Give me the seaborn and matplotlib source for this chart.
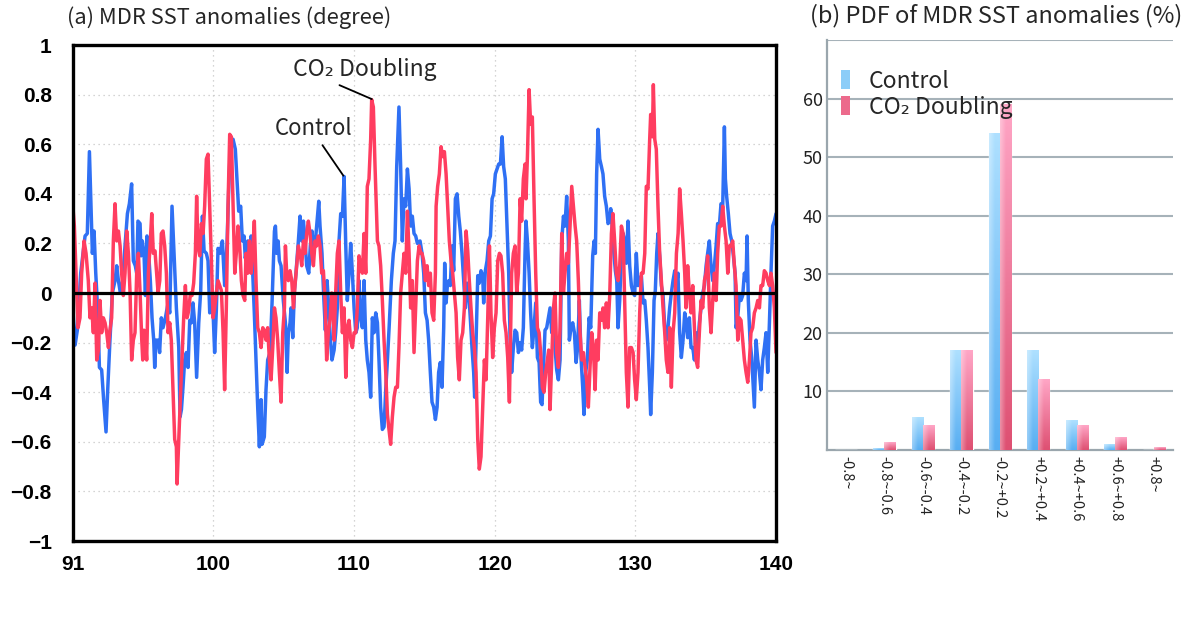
import numpy as np
import pandas as pd
import matplotlib
matplotlib.use("Agg")
import matplotlib.pyplot as plt
import matplotlib.colors as mcolors
from matplotlib.patches import Patch
import seaborn as sns

# ---------------- data: (a) MDR SST anomalies ----------------
ctrl_year = [
    90.01, 90.18, 90.34, 90.58, 90.89, 91.05, 91.20, 91.31, 91.41, 91.53,
    91.65, 91.79, 91.91, 92.07, 92.21, 92.38, 92.50, 92.66, 92.83, 93.02,
    93.14, 93.26, 93.40, 93.56, 93.73, 93.90, 94.04, 94.20, 94.32, 94.46,
    94.56, 94.65, 94.80, 94.87, 94.96, 95.08, 95.18, 95.29, 95.41, 95.53,
    95.65, 95.77, 95.84, 95.93,
    96.08, 96.19, 96.31, 96.43, 96.60, 96.79, 96.91, 97.07, 97.21, 97.38,
    97.55, 97.64, 97.74, 97.85, 97.97, 98.09, 98.21, 98.33, 98.45, 98.56,
    98.68, 98.82, 98.97, 99.11, 99.23, 99.35, 99.51, 99.63, 99.75, 99.87,
    99.99, 100.10, 100.22, 100.34, 100.48, 100.65, 100.81, 100.98, 101.10, 101.24,
    101.41, 101.57, 101.71, 101.81, 101.95, 102.07, 102.19, 102.28,
    102.45, 102.57, 102.69, 102.80, 102.92, 103.04, 103.16, 103.28, 103.40, 103.47,
    103.63, 103.75, 103.87, 104.04, 104.18, 104.35, 104.42, 104.51, 104.61, 104.70,
    104.82, 104.98, 105.13, 105.25, 105.34, 105.46, 105.53, 105.65, 105.77, 105.88,
    106.05, 106.17, 106.29, 106.41, 106.53, 106.64, 106.79, 106.90, 107.02, 107.14,
    107.26, 107.38, 107.50, 107.59, 107.73, 107.85, 107.97, 108.09, 108.21, 108.32,
    108.44,
    108.59, 108.70, 108.82, 108.94, 109.06, 109.18, 109.30, 109.42, 109.53, 109.65,
    109.77, 109.89, 110.01, 110.13, 110.24, 110.36, 110.48, 110.60, 110.72, 110.84,
    110.95, 111.07, 111.19, 111.31, 111.43, 111.55, 111.67, 111.78, 111.90, 112.02,
    112.14, 112.26, 112.38, 112.50, 112.66, 112.80, 112.92, 113.04, 113.20, 113.32,
    113.44, 113.56, 113.68, 113.80, 113.92, 114.03, 114.15, 114.27, 114.39, 114.51,
    114.70,
    114.84, 114.96, 115.08, 115.20, 115.31, 115.43, 115.55, 115.67, 115.79, 115.91,
    116.02, 116.14, 116.26, 116.38, 116.45, 116.55, 116.64, 116.74, 116.85, 116.97,
    117.09, 117.21, 117.33, 117.45, 117.56, 117.68, 117.80, 117.92, 118.04, 118.16,
    118.28, 118.39, 118.51, 118.58, 118.70, 118.80, 118.91, 119.03, 119.15, 119.22,
    119.34, 119.46, 119.58, 119.70, 119.82, 119.93, 120.05, 120.17, 120.29, 120.41,
    120.53, 120.64, 120.76, 120.88, 121.00,
    121.10, 121.21, 121.33, 121.45, 121.57, 121.69, 121.81, 121.92, 122.04, 122.16,
    122.23, 122.33, 122.45, 122.56, 122.68, 122.80, 122.92, 123.04, 123.16, 123.27,
    123.37, 123.46, 123.58, 123.70, 123.82, 123.94, 124.06, 124.18, 124.29, 124.41,
    124.53, 124.65, 124.77, 124.89, 125.00, 125.12, 125.24, 125.31, 125.43, 125.55,
    125.67, 125.79, 125.90, 126.02, 126.14, 126.26, 126.35, 126.47, 126.59, 126.71,
    126.83, 126.97, 127.07, 127.16, 127.25,
    127.35, 127.47, 127.59, 127.70, 127.82, 127.94, 128.06, 128.18, 128.25, 128.34,
    128.46, 128.58, 128.68, 128.77, 128.89, 129.01, 129.13, 129.25, 129.36, 129.48,
    129.60, 129.72, 129.84, 129.95, 130.07, 130.19, 130.31, 130.43, 130.55, 130.67,
    130.78, 130.90, 131.02, 131.09, 131.21, 131.33, 131.42, 131.52, 131.61, 131.73,
    131.85, 131.97, 132.09, 132.20, 132.32, 132.44, 132.56, 132.68, 132.80, 132.92,
    133.03, 133.15, 133.27, 133.39, 133.51,
    133.60, 133.72, 133.84, 133.96, 134.08, 134.20, 134.31, 134.43, 134.55, 134.67,
    134.79, 134.91, 135.03, 135.14, 135.26, 135.38, 135.50, 135.62, 135.74, 135.85,
    135.97, 136.09, 136.21, 136.33, 136.40, 136.49, 136.61, 136.73, 136.85, 136.97,
    137.09, 137.16, 137.28, 137.39, 137.51, 137.63, 137.75, 137.87, 137.94, 138.03,
    138.15, 138.27, 138.39, 138.46, 138.58, 138.70, 138.82, 138.93, 139.05, 139.17,
    139.29, 139.41, 139.53, 139.64, 139.76, 139.88, 140.00,
]
ctrl_anom = [
    -0.05, -0.21, -0.15, 0.08, 0.23, 0.24, 0.57, 0.35, 0.16, 0.25,
    0.08, -0.07, -0.30, -0.31, -0.43, -0.56, -0.39, -0.19, 0.00, 0.05,
    0.11, 0.05, 0.00, 0.05, 0.19, 0.32, 0.36, 0.44, 0.13, 0.11,
    0.08, 0.29, 0.28, 0.15, 0.21, 0.16, -0.01, 0.23, 0.16, 0.05,
    -0.10, -0.19, -0.30, -0.19,
    -0.19, -0.24, -0.10, -0.14, -0.10, -0.04, -0.08, 0.35, 0.16, -0.06,
    -0.22, -0.50, -0.47, -0.38, -0.27, -0.24, -0.30, -0.11, -0.12, -0.04,
    -0.12, -0.34, -0.12, 0.01, 0.31, 0.17, 0.16, 0.13, -0.08, -0.06,
    -0.08, -0.24, -0.07, 0.18, 0.16, 0.21, 0.03, 0.20, 0.42, 0.62,
    0.62, 0.58, 0.43, 0.33, 0.35, 0.21, 0.23, 0.14,
    0.21, 0.13, 0.23, 0.09, -0.08, -0.27, -0.46, -0.62, -0.43, -0.61,
    -0.58, -0.39, -0.27, -0.24, -0.04, 0.25, 0.27, 0.16, 0.21, 0.13,
    0.11, -0.03, -0.12, -0.32, -0.16, -0.12, -0.06, -0.18, 0.01, 0.08,
    0.21, 0.31, 0.21, 0.29, 0.21, 0.11, 0.08, 0.19, 0.25, 0.16,
    0.21, 0.29, 0.37, 0.27, 0.16, -0.01, -0.15, 0.05, -0.06, -0.18,
    -0.27,
    -0.23, -0.16, -0.06, 0.21, 0.32, 0.31, 0.47, 0.19, -0.03, 0.08,
    0.20, 0.08, -0.06, -0.16, -0.14, 0.05, -0.10, -0.14, 0.05, -0.19,
    -0.27, -0.32, -0.42, -0.10, -0.16, -0.08, -0.12, -0.27, -0.46, -0.55,
    -0.54, -0.39, -0.27, -0.14, 0.05, 0.16, 0.21, 0.51, 0.75, 0.51,
    0.21, 0.38, 0.35, 0.50, 0.42, 0.27, 0.31, 0.24, 0.23, 0.20,
    0.21,
    0.16, 0.08, -0.08, -0.11, -0.19, -0.32, -0.44, -0.46, -0.51, -0.46,
    -0.32, -0.28, -0.38, -0.14, 0.12, -0.04, 0.03, 0.05, 0.03, 0.19,
    0.09, 0.38, 0.40, 0.31, 0.25, 0.16, 0.05, -0.06, 0.04, 0.00,
    -0.11, -0.22, -0.32, -0.42, -0.16, 0.07, 0.04, 0.09, 0.07, -0.04,
    0.09, 0.13, 0.21, 0.23, 0.38, 0.40, 0.48, 0.50, 0.52, 0.52,
    0.63, 0.51, 0.46, 0.27, 0.08,
    -0.19, -0.32, -0.22, -0.15, -0.16, -0.24, -0.20, -0.23, -0.14, 0.16,
    0.29, 0.21, 0.08, -0.08, -0.22, -0.14, -0.04, -0.26, -0.28, -0.44,
    -0.45, -0.32, -0.15, -0.14, -0.10, -0.06, -0.16, -0.10, -0.22, -0.31,
    -0.35, -0.27, 0.21, 0.31, 0.27, 0.39, 0.21, -0.19, -0.14, -0.12,
    -0.16, -0.28, -0.22, -0.03, -0.26, -0.38, -0.49, -0.32, -0.27, -0.10,
    -0.14, 0.15, 0.21, 0.16, 0.48,
    0.66, 0.54, 0.51, 0.48, 0.39, 0.35, 0.28, 0.29, 0.34, 0.28,
    0.17, 0.09, 0.05, -0.14, -0.03, 0.16, 0.24, 0.21, 0.12, 0.29,
    0.11, 0.03, 0.00, -0.01, 0.16, 0.03, 0.05, 0.07, -0.04, -0.03,
    -0.11, -0.22, -0.38, -0.49, -0.32, -0.03, 0.01, 0.16, 0.24, 0.15,
    0.03, -0.01, -0.14, -0.19, -0.14, -0.06, 0.00, 0.05, 0.09, 0.03,
    0.08, -0.16, -0.26, -0.19, -0.08,
    -0.11, -0.18, -0.10, -0.22, -0.22, -0.27, -0.16, -0.22, -0.12, -0.06,
    0.00, 0.03, 0.11, 0.16, 0.21, 0.11, 0.05, 0.11, 0.19, 0.28,
    0.27, 0.36, 0.35, 0.67, 0.46, 0.39, 0.32, 0.24, 0.21, 0.15,
    0.08, -0.14, -0.10, -0.01, -0.03, -0.01, 0.08, 0.05, 0.23, -0.03,
    -0.19, -0.26, -0.39, -0.46, -0.19, -0.27, -0.32, -0.39, -0.27, -0.22,
    -0.16, -0.32, -0.12, 0.08, 0.27, 0.29, 0.32,
]

co2_year = [
    90.01, 90.13, 90.25, 90.39, 90.53, 90.65, 90.82, 90.96, 91.12, 91.24,
    91.36, 91.48, 91.60, 91.72, 91.84, 91.95, 92.07, 92.19, 92.31, 92.43,
    92.55, 92.66, 92.78, 92.90, 93.02, 93.14, 93.26, 93.38, 93.49, 93.61,
    93.73, 93.85, 93.97, 94.09, 94.20, 94.32, 94.44, 94.56, 94.68, 94.80,
    94.92, 94.99, 95.08, 95.18, 95.27, 95.39, 95.51, 95.63, 95.74, 95.86,
    95.98,
    96.08, 96.20, 96.31, 96.43, 96.55, 96.67, 96.79, 96.91, 97.02, 97.14,
    97.26, 97.38, 97.43, 97.55, 97.66, 97.78, 97.90, 98.02, 98.14, 98.26,
    98.38, 98.49, 98.61, 98.73, 98.82, 98.92, 99.04, 99.16, 99.28, 99.39,
    99.51, 99.63, 99.75, 99.87, 99.99, 100.10, 100.22, 100.34, 100.46, 100.58,
    100.70, 100.81, 100.93, 101.05, 101.17, 101.29, 101.41, 101.53, 101.64, 101.76,
    101.88, 102.00, 102.12, 102.24,
    102.33, 102.45, 102.57, 102.69, 102.80, 102.92, 103.04, 103.16, 103.28, 103.40,
    103.52, 103.63, 103.75, 103.87, 103.99, 104.11, 104.23, 104.35, 104.46, 104.58,
    104.70, 104.82, 104.94, 105.06, 105.13, 105.22, 105.34, 105.46, 105.58, 105.70,
    105.81, 105.93, 106.05, 106.17, 106.29, 106.41, 106.53, 106.64, 106.76, 106.88,
    107.00, 107.12, 107.24, 107.35, 107.47, 107.59, 107.71, 107.83, 107.95, 108.06,
    108.18, 108.30, 108.42, 108.54,
    108.59, 108.70, 108.82, 108.94, 109.06, 109.18, 109.30, 109.42, 109.53, 109.65,
    109.77, 109.89, 110.01, 110.13, 110.24, 110.36, 110.48, 110.60, 110.72, 110.84,
    110.95, 111.07, 111.19, 111.26, 111.38, 111.50, 111.67, 111.78, 111.90, 112.02,
    112.14, 112.26, 112.38, 112.49, 112.61, 112.73, 112.85, 112.97, 113.09, 113.20,
    113.32, 113.44, 113.56, 113.68, 113.80, 113.92, 114.03, 114.15, 114.27, 114.39,
    114.51, 114.63, 114.75,
    114.84, 114.96, 115.08, 115.20, 115.31, 115.43, 115.55, 115.67, 115.79, 115.84,
    115.95, 116.07, 116.19, 116.31, 116.43, 116.55, 116.66, 116.78, 116.90, 117.02,
    117.14, 117.26, 117.37, 117.49, 117.61, 117.73, 117.85, 117.97, 118.09, 118.20,
    118.32, 118.44, 118.56, 118.68, 118.80, 118.91, 119.03, 119.15, 119.27, 119.39,
    119.51, 119.63, 119.74, 119.86, 119.98, 120.10, 120.22, 120.34, 120.45, 120.57,
    120.69, 120.81, 120.93, 121.05,
    121.21, 121.33, 121.45, 121.57, 121.69, 121.81, 121.92, 122.04, 122.16, 122.23,
    122.33, 122.45, 122.56, 122.68, 122.80, 122.92, 123.04, 123.16, 123.27, 123.39,
    123.51, 123.63, 123.75, 123.84, 123.94, 124.06, 124.18, 124.29, 124.41, 124.53,
    124.65, 124.77, 124.89, 125.00, 125.12, 125.24, 125.36, 125.48, 125.60, 125.72,
    125.83, 125.95, 126.07, 126.19, 126.31, 126.43, 126.54, 126.66, 126.78, 126.90,
    127.02, 127.14, 127.25,
    127.35, 127.47, 127.59, 127.70, 127.82, 127.94, 128.06, 128.18, 128.30, 128.41,
    128.53, 128.65, 128.77, 128.89, 129.01, 129.13, 129.25, 129.36, 129.48, 129.60,
    129.72, 129.84, 129.95, 130.07, 130.19, 130.31, 130.43, 130.55, 130.67, 130.78,
    130.90, 131.02, 131.09, 131.21, 131.28, 131.38, 131.49, 131.61, 131.73, 131.85,
    131.97, 132.09, 132.20, 132.32, 132.44, 132.56, 132.68, 132.80, 132.92, 133.04,
    133.15, 133.27, 133.39, 133.51,
    133.60, 133.72, 133.84, 133.96, 134.08, 134.20, 134.31, 134.43, 134.55, 134.67,
    134.79, 134.91, 135.03, 135.14, 135.26, 135.38, 135.50, 135.62, 135.74, 135.85,
    135.97, 136.09, 136.21, 136.33, 136.45, 136.57, 136.68, 136.80, 136.92, 137.04,
    137.16, 137.28, 137.39, 137.51, 137.63, 137.75, 137.87, 137.99, 138.11, 138.22,
    138.34, 138.46, 138.58, 138.70, 138.82, 138.93, 139.05, 139.17, 139.29, 139.41,
    139.53, 139.64, 139.76, 139.88, 140.00,
]
co2_anom = [
    0.36, 0.27, 0.08, -0.14, -0.10, 0.08, 0.21, 0.16, 0.05, -0.10,
    -0.06, -0.16, 0.04, -0.27, -0.23, -0.03, -0.16, -0.10, -0.12, -0.16,
    -0.22, -0.15, -0.10, 0.21, 0.36, 0.21, 0.25, 0.19, 0.08, -0.01,
    0.08, 0.25, 0.16, 0.00, -0.27, -0.19, -0.16, 0.08, 0.16, 0.00,
    -0.19, -0.27, -0.15, -0.19, -0.27, 0.08, 0.19, 0.32, 0.16, 0.17,
    0.08,
    0.00, 0.05, 0.24, 0.25, 0.19, 0.08, -0.16, -0.12, -0.19, -0.39,
    -0.59, -0.62, -0.77, -0.59, -0.43, -0.27, -0.10, 0.03, -0.10, -0.07,
    0.00, -0.01, 0.04, 0.16, 0.39, 0.19, 0.15, 0.28, 0.24, 0.35,
    0.54, 0.56, 0.35, 0.13, -0.10, -0.06, 0.00, 0.05, 0.03, 0.01,
    -0.16, -0.39, -0.06, 0.35, 0.64, 0.63, 0.35, 0.08, 0.16, 0.27,
    0.19, 0.05, -0.01, -0.03,
    0.16, 0.08, 0.21, 0.08, 0.16, 0.29, 0.05, -0.14, -0.16, -0.22,
    -0.14, -0.15, -0.19, -0.14, -0.27, -0.35, -0.22, -0.06, -0.10, -0.19,
    -0.32, -0.44, -0.16, -0.06, 0.19, 0.08, 0.05, 0.09, 0.05, -0.06,
    0.03, 0.11, 0.19, 0.16, 0.11, 0.21, 0.16, 0.24, 0.29, 0.24,
    0.16, 0.11, 0.21, 0.19, 0.23, 0.19, 0.08, 0.09, -0.03, -0.27,
    -0.16, -0.11, 0.00, -0.08,
    -0.19, 0.00, 0.16, 0.21, 0.00, -0.16, -0.06, -0.34, -0.14, -0.11,
    -0.19, -0.22, -0.16, -0.16, -0.06, 0.15, 0.11, 0.08, 0.24, 0.08,
    0.43, 0.46, 0.62, 0.78, 0.75, 0.51, 0.21, 0.19, 0.11, -0.03,
    -0.19, -0.32, -0.49, -0.55, -0.61, -0.50, -0.42, -0.38, -0.38, -0.22,
    0.00, 0.08, 0.16, 0.08, 0.33, 0.16, -0.06, 0.05, -0.24, -0.06,
    0.13, 0.19, 0.16,
    0.16, 0.13, 0.05, 0.11, 0.03, 0.08, -0.08, -0.11, 0.08, 0.35,
    0.43, 0.48, 0.59, 0.55, 0.57, 0.48, 0.35, 0.21, 0.13, 0.08,
    0.00, -0.08, -0.26, -0.35, -0.19, -0.16, -0.06, 0.25, 0.17, 0.05,
    -0.06, -0.16, -0.22, -0.32, -0.59, -0.71, -0.66, -0.46, -0.27, -0.35,
    -0.10, 0.19, -0.08, -0.26, -0.14, -0.08, 0.13, 0.16, 0.15, 0.08,
    -0.11, -0.16, -0.26, -0.44,
    0.08, 0.16, 0.19, 0.00, 0.08, 0.38, 0.29, 0.46, 0.52, 0.38,
    0.55, 0.82, 0.68, 0.71, 0.38, 0.08, -0.14, -0.16, -0.24, -0.38,
    -0.40, -0.32, -0.27, -0.23, -0.47, -0.27, -0.06, 0.00, -0.24, -0.30,
    -0.14, 0.24, 0.00, 0.08, 0.16, 0.12, 0.27, 0.43, 0.35, 0.27,
    0.21, 0.05, -0.16, -0.27, -0.24, -0.30, -0.35, -0.46, -0.30, -0.16,
    -0.22, -0.39, -0.19,
    -0.27, -0.08, -0.11, -0.06, -0.14, -0.04, -0.14, -0.01, 0.24, 0.32,
    0.21, 0.08, 0.05, 0.11, 0.27, 0.24, -0.06, -0.32, -0.46, -0.22,
    -0.22, -0.24, -0.35, -0.43, -0.32, -0.08, 0.08, 0.08, 0.16, 0.43,
    0.42, 0.62, 0.72, 0.63, 0.84, 0.62, 0.58, 0.35, 0.16, 0.05,
    -0.06, -0.16, -0.27, -0.32, -0.14, -0.38, -0.16, -0.08, 0.16, 0.24,
    0.42, 0.32, 0.21, 0.08,
    -0.06, 0.11, 0.00, -0.08, 0.03, -0.14, -0.27, -0.30, -0.16, -0.03,
    -0.06, 0.05, 0.08, 0.15, -0.06, -0.16, -0.03, 0.08, -0.03, 0.16,
    0.27, 0.27, 0.35, 0.27, 0.21, 0.08, 0.19, 0.19, 0.21, 0.11,
    0.03, -0.19, -0.10, -0.11, -0.19, -0.27, -0.32, -0.36, -0.27, -0.16,
    -0.14, -0.08, -0.06, -0.03, -0.06, 0.03, 0.03, 0.09, 0.08, 0.05,
    0.03, 0.08, 0.03, -0.06, -0.24,
]

x_ticks = [90, 100, 110, 120, 130, 140]
x_ticklabels = ["91", "100", "110", "120", "130", "140"]
y_ticks = [1.0, 0.8, 0.6, 0.4, 0.2, 0.0, -0.2, -0.4, -0.6, -0.8, -1.0]
y_ticklabels = ["1", "0.8", "0.6", "0.4", "0.2", "0",
                "\u22120.2", "\u22120.4", "\u22120.6", "\u22120.8", "\u22121"]

# ---------------- data: (b) PDF ----------------
bins = ["-0.8~", "-0.8~-0.6", "-0.6~-0.4", "-0.4~-0.2", "-0.2~+0.2",
        "+0.2~+0.4", "+0.4~+0.6", "+0.6~+0.8", "+0.8~"]
pdf_control = [0.0, 0.3, 5.6, 17.0, 54.0, 17.0, 5.0, 1.0, 0.0]
pdf_co2 = [0.0, 1.2, 4.2, 17.0, 59.0, 12.0, 4.2, 2.1, 0.4]
pdf_yticks = [10, 20, 30, 40, 50, 60, 70]
pdf_yticklabels = ["10", "20", "30", "40", "50", "60", ""]

LAB_CTRL = "Control"
LAB_CO2 = "CO\u2082 Doubling"

if len(ctrl_year) != len(ctrl_anom) or len(co2_year) != len(co2_anom):
    raise SystemExit(f"length mismatch {len(ctrl_year)} {len(ctrl_anom)} {len(co2_year)} {len(co2_anom)}")

# ---------------- style ----------------
sns.set_style("white")
CJK = ["Noto Sans CJK JP", "DejaVu Sans"]
plt.rcParams["font.family"] = CJK

fig = plt.figure(figsize=(11.95, 6.22), dpi=100)
ax = fig.add_axes([0.0607, 0.1302, 0.5887, 0.7974])
ax2 = fig.add_axes([0.6918, 0.2765, 0.2898, 0.659])

# ---------------- panel (a) ----------------
ts = pd.concat([
    pd.DataFrame({"year": ctrl_year, "anom": ctrl_anom, "run": LAB_CTRL}),
    pd.DataFrame({"year": co2_year, "anom": co2_anom, "run": LAB_CO2}),
], ignore_index=True)
line_pal = {LAB_CTRL: "#2f70f4", LAB_CO2: "#ff3d60"}
sns.lineplot(data=ts, x="year", y="anom", hue="run", hue_order=[LAB_CTRL, LAB_CO2],
             palette=line_pal, estimator=None, sort=False, lw=2.5,
             legend=False, ax=ax)
ax.axhline(0, color="black", lw=2.3, zorder=5)

ax.set_xlim(90, 140)
ax.set_ylim(-1, 1)
ax.set_xticks(x_ticks, x_ticklabels)
ax.set_yticks(y_ticks, y_ticklabels)
ax.grid(True, ls=(0, (1, 3)), color="#c6c6c6", lw=0.9)
ax.set_axisbelow(True)
ax.tick_params(direction="out", length=6, width=2, labelsize=15,
               colors="black")
ax.tick_params(axis="y", pad=9)
ax.tick_params(axis="x", pad=4)
for lab in ax.get_xticklabels() + ax.get_yticklabels():
    lab.set_fontweight("bold")
    lab.set_family(["Liberation Sans", "DejaVu Sans"])
for s in ax.spines.values():
    s.set_linewidth(2.4)
    s.set_color("black")
    s.set_visible(True)
ax.set_xlabel("")
ax.set_ylabel("")

ax.annotate(LAB_CO2, xy=(111.27, 0.782), xytext=(110.79, 0.90),
            ha="center", va="center", fontsize=16.5,
            arrowprops=dict(arrowstyle="-", color="black", lw=1.3,
                            relpos=(0.26, 0.0), shrinkA=1, shrinkB=0))
ax.annotate(LAB_CTRL, xy=(109.25, 0.473), xytext=(107.16, 0.665),
            ha="center", va="center", fontsize=16,
            arrowprops=dict(arrowstyle="-", color="black", lw=1.3,
                            relpos=(0.56, 0.0), shrinkA=2, shrinkB=0))

fig.text(0.056, 0.971, "(a) MDR SST anomalies (degree)", fontsize=15.8,
         ha="left", va="center")
fig.text(0.678, 0.975, "(b) PDF of MDR SST anomalies (%)", fontsize=17,
         ha="left", va="center")

# ---------------- panel (b) ----------------
pdf_df = pd.DataFrame({
    "bin": bins * 2,
    "pct": pdf_control + pdf_co2,
    "run": [LAB_CTRL] * len(bins) + [LAB_CO2] * len(bins),
})
bar_pal = {LAB_CTRL: "#7cc3f6", LAB_CO2: "#ee6f90"}
sns.barplot(data=pdf_df, x="bin", y="pct", hue="run", order=bins,
            hue_order=[LAB_CTRL, LAB_CO2], palette=bar_pal, saturation=1,
            width=0.58, gap=0, legend=False, ax=ax2, zorder=3)

grad = {
    LAB_CTRL: ("#aee0ff", "#58aef2"),
    LAB_CO2: ("#ffa6c6", "#de5072"),
}


def gradient_image(top, bottom, n=80, m=24):
    t = np.linspace(0, 1, n)[:, None, None]
    c0 = np.array(mcolors.to_rgb(top))[None, None, :]
    c1 = np.array(mcolors.to_rgb(bottom))[None, None, :]
    img = c0 * (1 - t) + c1 * t
    img = np.repeat(img, m, axis=1)
    h = np.linspace(0, 1, m)[None, :, None]
    light = 0.35 * np.clip(1 - h / 0.5, 0, 1)
    img = img + (1 - img) * light
    return np.clip(img, 0, 1)


for p in list(ax2.patches):
    h = p.get_height()
    if h <= 0:
        continue
    x0 = p.get_x()
    w = p.get_width()
    xc = x0 + w / 2
    run = LAB_CTRL if xc < round(xc) else LAB_CO2
    top, bottom = grad[run]
    ax2.imshow(gradient_image(top, bottom), extent=[x0, x0 + w, 0, h],
               origin="upper", aspect="auto", zorder=4, interpolation="bilinear")

ax2.set_xlim(-0.5, len(bins) - 0.5)
ax2.set_ylim(0, 70)
ax2.set_yticks(pdf_yticks, pdf_yticklabels)
ax2.yaxis.grid(True, color="#a6b2b9", lw=1.5)
ax2.xaxis.grid(False)
ax2.set_axisbelow(True)
ax2.tick_params(axis="y", length=0, labelsize=13, pad=3, labelcolor="#222222")
ax2.tick_params(axis="x", which="major", length=0, labelsize=10.5, pad=4,
                labelcolor="#222222")
ax2.set_xticks(np.arange(-0.5, len(bins), 1.0), minor=True)
ax2.tick_params(axis="x", which="minor", direction="out", length=7, width=1.5,
                color="#9aa6ad")
for lab in ax2.get_xticklabels():
    lab.set_rotation(270)
    lab.set_ha("center")
    lab.set_va("top")
ax2.spines["top"].set_visible(False)
ax2.spines["right"].set_visible(False)
for side in ["left", "bottom"]:
    ax2.spines[side].set_color("#9aa6ad")
    ax2.spines[side].set_linewidth(1.6)
ax2.set_xlabel("")
ax2.set_ylabel("")

handles = [Patch(facecolor="#8ccdf8", edgecolor="none"),
           Patch(facecolor="#ec6a8c", edgecolor="none")]
leg = ax2.legend(handles, [LAB_CTRL, LAB_CO2], loc="upper left",
                 bbox_to_anchor=(0.015, 0.95), frameon=False, fontsize=16.5,
                 handlelength=0.4, handleheight=0.9, handletextpad=0.8,
                 labelspacing=0.12, borderaxespad=0)
leg.set_zorder(10)

fig.savefig("out.png", dpi=100)
